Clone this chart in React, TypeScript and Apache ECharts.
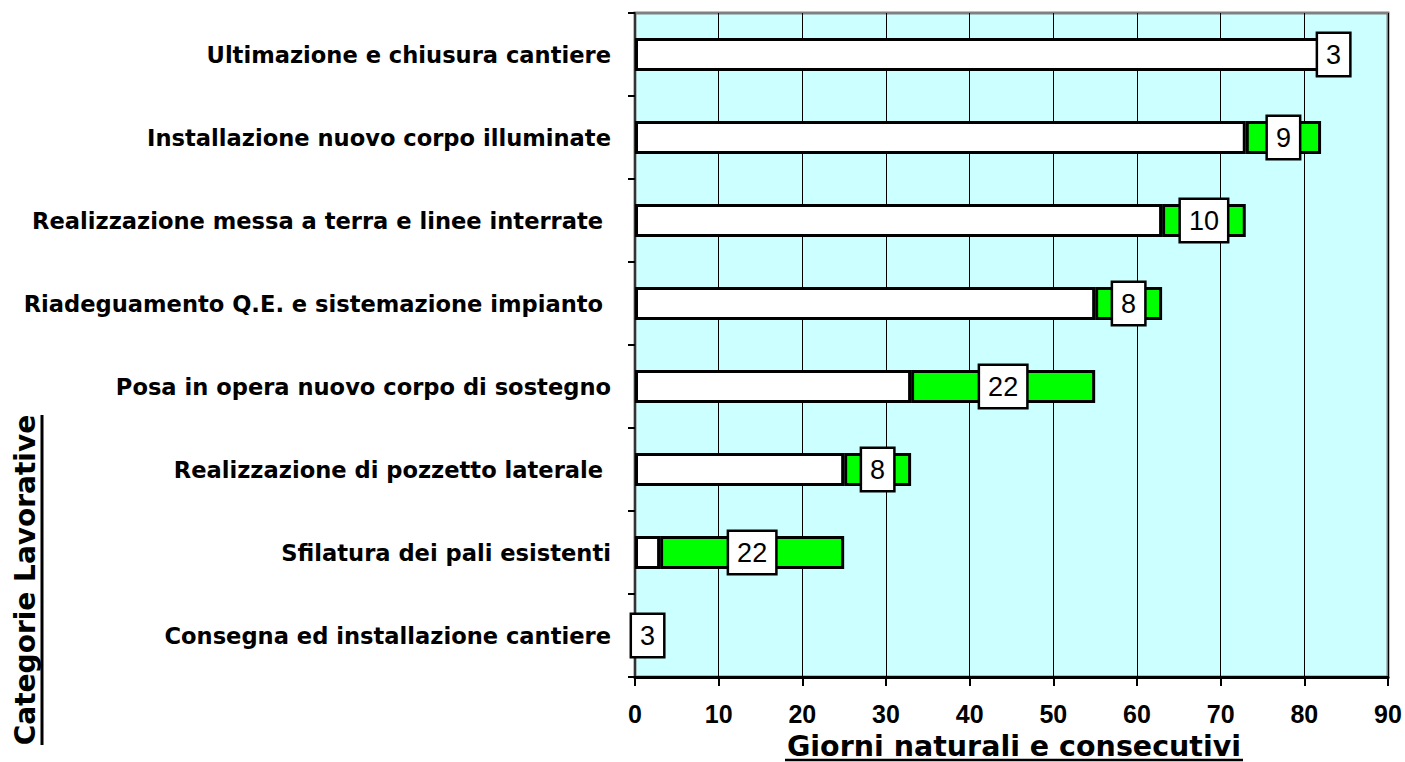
import React, { useEffect, useRef } from "react";
import * as echarts from "echarts";

const categories = [
  "Consegna ed installazione cantiere",
  "Sfilatura dei pali esistenti",
  "Realizzazione di pozzetto laterale ",
  "Posa in opera nuovo corpo di sostegno",
  "Riadeguamento Q.E. e sistemazione impianto ",
  "Realizzazione messa a terra e linee interrate ",
  "Installazione nuovo corpo illuminate",
  "Ultimazione e chiusura cantiere",
];
const startDays = [0, 3, 25, 33, 55, 63, 73, 82];
const durationDays = [3, 22, 8, 22, 8, 10, 9, 3];
const xTicks = [0, 10, 20, 30, 40, 50, 60, 70, 80, 90];

const xTitle = "Giorni naturali e consecutivi";
const yTitle = "Categorie Lavorative";

export default function App() {
  const ref = useRef<HTMLDivElement>(null);
  useEffect(() => {
    if (!ref.current) return;
    const chart = echarts.init(ref.current, null, { renderer: "svg" });
    const xMin = xTicks[0];
    const xMax = xTicks[xTicks.length - 1];
    chart.setOption({
      animation: false,
      grid: {
        left: 635,
        right: 17,
        top: 13,
        bottom: 85,
        show: true,
        backgroundColor: "#CCFFFF",
        borderColor: "#808080",
        borderWidth: 3,
      },
      xAxis: {
        type: "value",
        min: xMin,
        max: xMax,
        interval: 10,
        axisLine: { show: true, lineStyle: { color: "#000", width: 3 } },
        axisTick: { show: true, length: 9, lineStyle: { color: "#000", width: 2 } },
        axisLabel: {
          margin: 26,
          fontSize: 25,
          lineHeight: 22,
          fontWeight: "bold",
          fontFamily: "Liberation Sans, Arial, sans-serif",
          color: "#000",
        },
        splitLine: { show: true, lineStyle: { color: "#000", width: 1 } },
      },
      yAxis: {
        type: "category",
        data: categories,
        axisLine: { show: true, lineStyle: { color: "#333", width: 2 } },
        axisTick: { show: true, length: 7, lineStyle: { color: "#000", width: 2 } },
        axisLabel: {
          margin: 24,
          fontSize: 22.6,
          fontWeight: "bold",
          fontFamily: "DejaVu Sans, sans-serif",
          color: "#000",
        },
        splitLine: { show: false },
      },
      series: [
        {
          type: "bar",
          stack: "gantt",
          barWidth: 33,
          data: startDays.map((v) => (v === 0 ? "-" : v)),
          itemStyle: { color: "#FFFFFF", borderColor: "#000", borderWidth: 3 },
          silent: true,
        },
        {
          type: "bar",
          stack: "gantt",
          barWidth: 33,
          data: durationDays,
          itemStyle: { color: "#00FF00", borderColor: "#000", borderWidth: 3 },
          label: {
            show: true,
            position: "inside",
            formatter: (p: any) => String(p.value),
            fontSize: 27,
            fontFamily: "Liberation Sans, Arial, sans-serif",
            color: "#000",
            backgroundColor: "#FFFFFF",
            borderColor: "#000",
            borderWidth: 2.5,
            padding: [8, 8, 6, 8],
          },
        },
      ],
      graphic: [
        {
          type: "text",
          x: 1014,
          y: 746,
          style: {
            text: xTitle,
            font: "bold 28.5px DejaVu Sans, sans-serif",
            lineHeight: 27,
            fill: "#000",
            align: "center",
            verticalAlign: "middle",
          },
        },
        {
          type: "line",
          shape: { x1: 785, y1: 760, x2: 1243, y2: 760 },
          style: { stroke: "#000", lineWidth: 2.5 },
        },
        {
          type: "text",
          x: 25,
          y: 580,
          rotation: Math.PI / 2,
          style: {
            text: yTitle,
            font: "bold 28px DejaVu Sans, sans-serif",
            fill: "#000",
            align: "center",
            verticalAlign: "middle",
          },
        },
        {
          type: "line",
          shape: { x1: 42, y1: 415, x2: 42, y2: 745 },
          style: { stroke: "#000", lineWidth: 3 },
        },
      ],
    });
    return () => chart.dispose();
  }, []);
  return (
    <div
      ref={ref}
      style={{ position: "fixed", left: 0, top: 0, width: 1405, height: 762, background: "#fff" }}
    />
  );
}
